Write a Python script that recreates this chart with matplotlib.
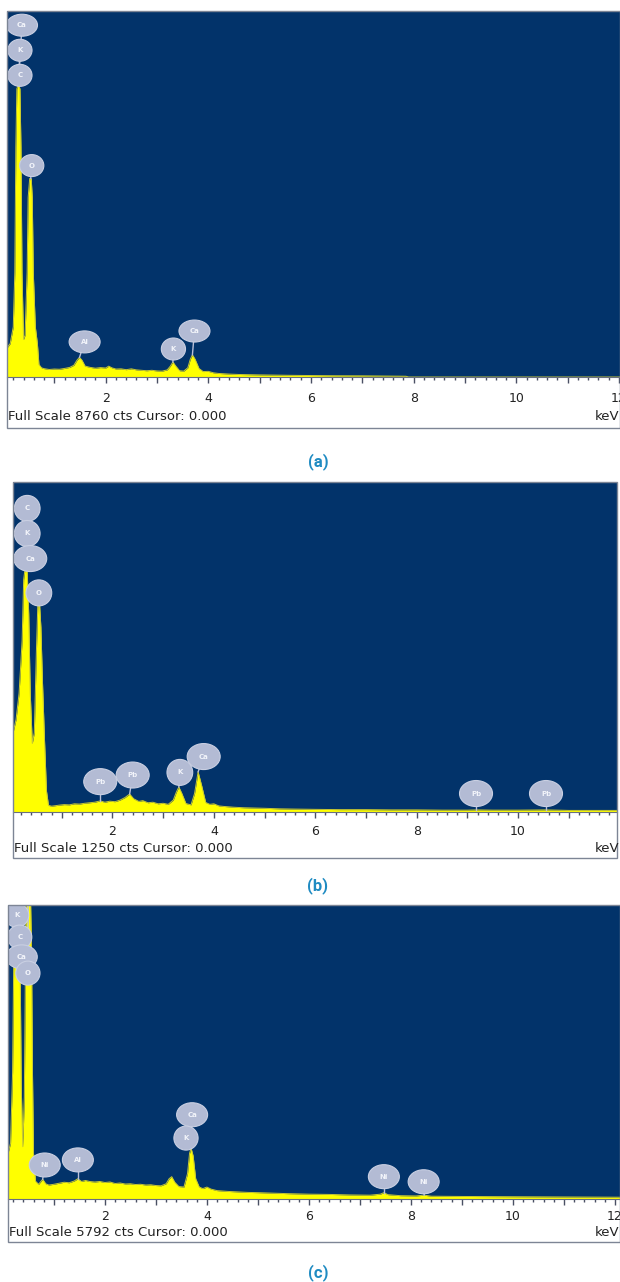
import matplotlib
matplotlib.use("Agg")
import numpy as np
from matplotlib import pyplot as plt
from matplotlib.patches import Ellipse, Rectangle
from matplotlib.ticker import MultipleLocator, FuncFormatter

# ---- data (keV, counts) ----
full_scale_a = 8760
energy_a = [0.08, 0.14, 0.20, 0.23, 0.25, 0.27, 0.30, 0.33, 0.35, 0.37, 0.40, 0.43, 0.47, 0.49,
            0.52, 0.55, 0.57, 0.59, 0.63, 0.67, 0.70, 0.75, 0.80, 0.90, 1.00, 1.10, 1.20, 1.30,
            1.38, 1.44, 1.49, 1.54, 1.60, 1.70, 1.80, 1.90, 2.00, 2.06, 2.12, 2.20, 2.30, 2.40,
            2.50, 2.60, 2.70, 2.80, 2.90, 3.00, 3.10, 3.20, 3.26, 3.31, 3.36, 3.44, 3.52, 3.60,
            3.65, 3.69, 3.74, 3.82, 3.90, 4.00, 4.10, 4.20, 4.40, 4.60, 4.80, 5.00, 5.30, 5.60,
            6.00, 6.50, 7.00, 7.50, 7.85, 7.90, 12.1]
counts_a = [700, 800, 1200, 2500, 5500, 6900, 7000, 6900, 5500, 2500, 900, 1000, 2500, 4300,
            4750, 4750, 4300, 2500, 1200, 800, 300, 220, 200, 180, 190, 185, 205, 230,
            280, 400, 470, 400, 260, 230, 210, 225, 215, 260, 220, 190, 195, 175,
            195, 170, 160, 150, 160, 145, 140, 170, 260, 360, 270, 150, 140, 220,
            430, 530, 430, 200, 130, 135, 100, 85, 70, 60, 55, 50, 45, 40,
            35, 30, 28, 22, 18, 0, 0]
labels_a = ["Ca", "K", "C", "O", "Al", "K", "Ca"]
label_x_a = [0.37, 0.33, 0.33, 0.56, 1.59, 3.32, 3.73]
label_y_a = [8420, 7820, 7220, 5060, 840, 670, 1100]
peak_x_a = [0.30, 0.30, 0.30, 0.54, 1.49, 3.31, 3.69]
peak_y_a = [7000, 7000, 7000, 4750, 470, 360, 530]

full_scale_b = 1250
energy_b = [0.04, 0.10, 0.16, 0.22, 0.25, 0.28, 0.32, 0.35, 0.38, 0.42, 0.46, 0.50, 0.53, 0.56,
            0.59, 0.62, 0.66, 0.70, 0.74, 0.80, 0.88, 0.95, 1.05, 1.15, 1.25, 1.35, 1.45, 1.55,
            1.65, 1.76, 1.85, 1.95, 2.05, 2.15, 2.25, 2.34, 2.42, 2.52, 2.60, 2.70, 2.80, 2.90,
            3.00, 3.10, 3.20, 3.26, 3.31, 3.37, 3.45, 3.55, 3.62, 3.69, 3.76, 3.84, 3.92, 4.00,
            4.10, 4.20, 4.40, 4.60, 4.80, 5.00, 5.30, 5.60, 6.00, 6.50, 7.00, 7.50, 8.00, 8.50,
            9.00, 9.20, 9.50, 10.0, 10.55, 11.0, 11.5, 11.95]
counts_b = [300, 350, 450, 650, 880, 925, 910, 750, 450, 260, 300, 600, 790, 800,
            700, 500, 280, 80, 25, 22, 24, 26, 28, 27, 31, 30, 33, 35,
            37, 42, 37, 41, 39, 45, 55, 68, 50, 40, 43, 35, 37, 31,
            33, 29, 45, 75, 95, 70, 32, 27, 70, 152, 100, 36, 29, 31,
            23, 21, 18, 16, 15, 14, 12, 11, 10, 9, 9, 8, 8, 7,
            7, 8, 7, 7, 8, 6, 6, 6]
labels_b = ["C", "K", "Ca", "O", "Pb", "Pb", "K", "Ca", "Pb", "Pb"]
label_x_b = [0.32, 0.32, 0.38, 0.55, 1.76, 2.40, 3.33, 3.80, 9.17, 10.55]
label_y_b = [1150, 1055, 960, 830, 115, 140, 150, 210, 70, 70]
peak_x_b = [0.30, 0.30, 0.30, 0.55, 1.76, 2.34, 3.31, 3.69, 9.17, 10.55]
peak_y_b = [925, 925, 925, 800, 42, 68, 95, 152, 8, 8]

full_scale_c = 5792
energy_c = [0.10, 0.15, 0.19, 0.22, 0.25, 0.30, 0.33, 0.36, 0.39, 0.42, 0.45, 0.48, 0.53, 0.56,
            0.58, 0.60, 0.64, 0.70, 0.78, 0.84, 0.90, 1.00, 1.10, 1.20, 1.30, 1.40, 1.47, 1.54,
            1.62, 1.70, 1.80, 1.90, 2.00, 2.10, 2.20, 2.30, 2.40, 2.50, 2.60, 2.70, 2.80, 2.90,
            3.00, 3.10, 3.20, 3.26, 3.31, 3.37, 3.45, 3.55, 3.62, 3.66, 3.69, 3.73, 3.78, 3.85,
            3.92, 4.00, 4.08, 4.20, 4.40, 4.60, 4.80, 5.00, 5.30, 5.60, 6.00, 6.40, 6.80, 7.20,
            7.40, 7.47, 7.55, 7.80, 8.10, 8.26, 8.40, 9.00, 10.0, 11.0, 12.1]
counts_c = [900, 1100, 2500, 5500, 6500, 6500, 5500, 2200, 1030, 2000, 5500, 6500, 6500, 5000,
            2500, 900, 350, 290, 390, 300, 275, 290, 310, 330, 320, 355, 400, 345,
            365, 345, 335, 345, 325, 335, 305, 315, 295, 300, 285, 290, 275, 280,
            265, 260, 300, 400, 440, 330, 245, 235, 500, 900, 1000, 850, 400, 235,
            205, 235, 195, 165, 150, 140, 130, 125, 115, 105, 95, 90, 80, 75,
            95, 125, 85, 65, 60, 75, 55, 50, 45, 40, 35]
labels_c = ["K", "C", "Ca", "O", "Ni", "Al", "Ca", "K", "Ni", "Ni"]
label_x_c = [0.27, 0.33, 0.37, 0.49, 0.82, 1.47, 3.71, 3.59, 7.47, 8.25]
label_y_c = [5590, 5160, 4770, 4450, 670, 770, 1660, 1200, 440, 340]
peak_x_c = [0.28, 0.28, 0.28, 0.50, 0.78, 1.47, 3.69, 3.69, 7.47, 8.26]
peak_y_c = [6500, 6500, 6500, 6500, 390, 400, 1000, 1000, 125, 75]

captions = ["(a)", "(b)", "(c)"]

# ---- layout (pixels in a 620 x 1282 canvas) ----
W, H = 620, 1282
BLUE = "#02336a"
fig = plt.figure(figsize=(W / 100, H / 100), dpi=100)
fig.patch.set_facecolor("white")

panels = [
    dict(energy=energy_a, counts=counts_a, fs=full_scale_a, labels=labels_a, lx=label_x_a,
         ly=label_y_a, px=peak_x_a, py=peak_y_a, box=(7, 620, 11, 377), xlim=(0.078, 12.02),
         frame_bottom=428, text_y=417, cap_y=462, pad=6.5, bub=(31, 22)),
    dict(energy=energy_b, counts=counts_b, fs=full_scale_b, labels=labels_b, lx=label_x_b,
         ly=label_y_b, px=peak_x_b, py=peak_y_b, box=(13, 617, 482, 812), xlim=(0.04, 11.95),
         frame_bottom=858, text_y=848, cap_y=886, pad=5.5, bub=(33, 26)),
    dict(energy=energy_c, counts=counts_c, fs=full_scale_c, labels=labels_c, lx=label_x_c,
         ly=label_y_c, px=peak_x_c, py=peak_y_c, box=(8, 620, 905, 1199), xlim=(0.10, 12.1),
         frame_bottom=1242, text_y=1233, cap_y=1273, pad=4.0, bub=(31, 24)),
]

for p, cap in zip(panels, captions):
    l, r, t, b = p["box"]
    ax = fig.add_axes([l / W, 1 - b / H, (r - l) / W, (b - t) / H])
    ax.set_facecolor(BLUE)
    ax.set_xlim(*p["xlim"])
    ax.set_ylim(0, p["fs"])

    ax.fill_between(p["energy"], p["counts"], 0, color="#ffff00", lw=0, zorder=2)
    ax.plot(p["energy"], p["counts"], color="#c8c832", lw=0.7, zorder=3)

    # bubble labels with stems
    kev_px = (p["xlim"][1] - p["xlim"][0]) / (r - l)
    cts_px = p["fs"] / (b - t)
    bw, bh = p["bub"]
    for name, x, y, xp, yp in zip(p["labels"], p["lx"], p["ly"], p["px"], p["py"]):
        ax.plot([x, xp], [y, yp], color="#b9c0d8", lw=1.0, zorder=4)
        w = bw * (0.78 if len(name) == 1 else 1.0)
        ax.add_patch(Ellipse((x, y), w * kev_px, bh * cts_px, facecolor="#b3bbd4",
                             edgecolor="#c9cfe2", lw=0.8, zorder=5))
        ax.text(x, y, name, color="#f2f4fa", fontsize=5, fontweight="bold",
                ha="center", va="center", zorder=6)

    ax.xaxis.set_major_locator(MultipleLocator(1))
    ax.xaxis.set_minor_locator(MultipleLocator(0.2))
    ax.xaxis.set_major_formatter(FuncFormatter(lambda v, pos: "%d" % v if int(round(v)) % 2 == 0 else ""))
    ax.tick_params(axis="x", which="major", length=4, width=1, color="#4a5064", direction="out",
                   labelsize=9, labelcolor="#222222", pad=p["pad"])
    ax.tick_params(axis="x", which="minor", length=2.5, width=1, color="#4a5064", direction="out")
    ax.set_yticks([])
    for side in ["top", "left", "right"]:
        ax.spines[side].set_visible(False)
    ax.spines["bottom"].set_color("#6a7080")
    ax.spines["bottom"].set_linewidth(0.8)

    # outer frame of the panel
    fig.add_artist(Rectangle((l / W, 1 - p["frame_bottom"] / H), (r - l) / W,
                             (p["frame_bottom"] - t) / H, transform=fig.transFigure,
                             fill=False, edgecolor="#7d8595", lw=1))
    fig.text((l + 1) / W, 1 - p["text_y"] / H,
             "Full Scale %d cts Cursor: 0.000" % p["fs"], fontsize=9.5, color="#222222",
             ha="left", va="center")
    fig.text(619 / W, 1 - p["text_y"] / H, "keV", fontsize=9.5, color="#222222",
             ha="right", va="center")
    fig.text(318 / W, 1 - p["cap_y"] / H, cap, fontsize=12, fontweight="bold",
             family="Roboto", color="#1f8bc2", ha="center", va="center")

fig.savefig("out.png", dpi=100, facecolor="white")
